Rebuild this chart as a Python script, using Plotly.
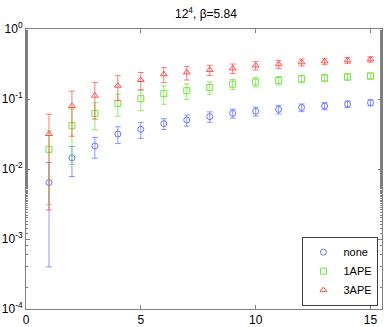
import plotly.graph_objects as go

# transverse direction, 12^4 lattice, beta = 5.84
t = list(range(1, 16))

none_val = [0.0064, 0.0144, 0.0213, 0.0316, 0.0369, 0.0445, 0.050, 0.056, 0.0624, 0.0667,
            0.071, 0.0755, 0.0794, 0.0845, 0.0887]
none_err = [0.006, 0.0066, 0.007, 0.0085, 0.0095, 0.0078, 0.009, 0.0095, 0.009, 0.0098,
            0.0100, 0.0095, 0.0092, 0.009, 0.009]

ape1_val = [0.0191, 0.0416, 0.0624, 0.0867, 0.101, 0.119, 0.1315, 0.146, 0.163, 0.175,
            0.184, 0.194, 0.200, 0.207, 0.213]
ape1_err = [0.016, 0.030, 0.026, 0.030, 0.033, 0.035, 0.033, 0.029, 0.027, 0.026,
            0.025, 0.024, 0.023, 0.022, 0.022]

ape3_val = [0.0316, 0.0794, 0.1116, 0.155, 0.187, 0.226, 0.24, 0.26, 0.274, 0.301,
            0.313, 0.334, 0.345, 0.357, 0.369]
ape3_err = [0.029, 0.050, 0.060, 0.060, 0.052, 0.055, 0.053, 0.043, 0.042, 0.041,
            0.040, 0.038, 0.036, 0.034, 0.033]

series = [
    (u"none", none_val, none_err, u"circle-open", u"#6478ff", u"rgba(100,120,255,0.75)"),
    (u"1APE", ape1_val, ape1_err, u"square-open", u"#72e63e", u"rgba(114,230,62,0.75)"),
    (u"3APE", ape3_val, ape3_err, u"triangle-up-open", u"#ff4f4f", u"rgba(255,79,79,0.75)"),
]

ytick_vals = [1e-4, 1e-3, 1e-2, 1e-1, 1]
ytick_text = [u"10<sup>-4</sup>", u"10<sup>-3</sup>", u"10<sup>-2</sup>", u"10<sup>-1</sup>", u"10<sup>0</sup>"]
xtick_vals = [0, 5, 10, 15]

fig = go.Figure()

for name, vals, errs, symbol, color, err_color in series:
    fig.add_trace(
        go.Scatter(
            x=t,
            y=vals,
            name=name,
            mode=u"markers",
            marker={u"symbol": symbol, u"size": 6, u"color": color, u"line": {u"width": 1, u"color": color}},
            error_y={u"type": u"data", u"array": errs, u"visible": True,
                     u"color": err_color, u"thickness": 1, u"width": 3},
        )
    )

axis_common = {
    u"showline": True,
    u"linecolor": u"#808080",
    u"linewidth": 1,
    u"mirror": u"ticks",
    u"ticks": u"inside",
    u"tickcolor": u"#808080",
    u"showgrid": False,
    u"zeroline": False,
    u"automargin": False,
    u"tickfont": {u"size": 12, u"color": u"black"},
}

fig.update_layout(
    width=385,
    height=327,
    margin={u"l": 26, u"r": 3, u"t": 29, u"b": 18},
    paper_bgcolor=u"white",
    plot_bgcolor=u"white",
    font={u"family": u"Liberation Sans, Arial, sans-serif", u"size": 12, u"color": u"black"},
    title={u"text": u"12<sup>4</sup>, β=5.84", u"x": 0.535, u"xanchor": u"center", u"y": 0.957,
           u"yanchor": u"middle", u"font": {u"size": 12}},
    xaxis=dict(axis_common, range=[0, 15.5], tickvals=xtick_vals, ticklen=4),
    yaxis=dict(axis_common, type=u"log", range=[-4, 0], tickvals=ytick_vals, ticktext=ytick_text,
               ticklen=4, minor={u"ticks": u"inside", u"ticklen": 2, u"tickcolor": u"#808080", u"showgrid": False}),
    legend={u"x": 0.99, u"y": 0.012, u"xanchor": u"right", u"yanchor": u"bottom",
            u"bgcolor": u"white", u"bordercolor": u"#404040", u"borderwidth": 1,
            u"font": {u"size": 11}, u"tracegroupgap": 0, u"itemwidth": 30},
    showlegend=True,
)

fig.write_html(u"out.html", config={u"displayModeBar": False},
               post_script=u"document.body.style.margin = '0';")
